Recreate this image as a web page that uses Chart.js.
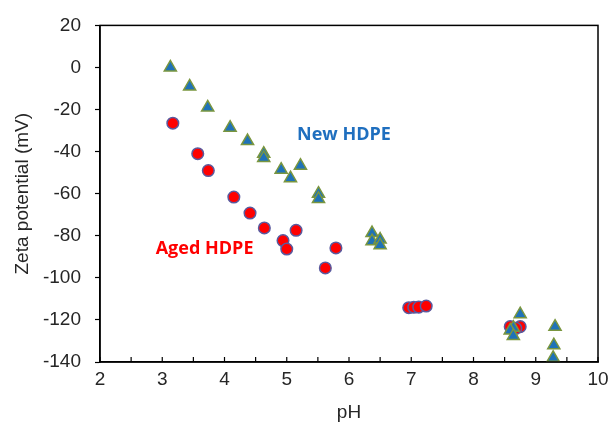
<!DOCTYPE html>
<html>
<head>
<meta charset="utf-8">
<script src="https://cdn.jsdelivr.net/npm/chart.js@4"></script>
<style>
  html, body { margin: 0; padding: 0; background: #fff; }
  #wrap { width: 615px; height: 425px; }
</style>
</head>
<body>
<div id="wrap"><canvas id="zeta" width="615" height="425"></canvas></div>
<script>
  // pH / zeta potential values
  const newPH   = [3.13, 3.44, 3.73, 4.09, 4.37, 4.63, 4.63, 4.91, 5.06, 5.22, 5.51, 5.51, 6.37, 6.37, 6.50, 6.50, 8.75, 8.64, 8.59, 8.64, 9.31, 9.29, 9.28];
  const newZeta = [0, -9, -19, -28.6, -35, -41, -43, -48.6, -52.6, -46.7, -60, -62.5, -78.7, -82.6, -81.8, -84.5, -117.3, -123.7, -125, -127.6, -123.2, -132, -138];

  const agedPH   = [3.17, 3.57, 3.74, 4.15, 4.41, 4.64, 4.94, 5.00, 5.15, 5.62, 5.79, 6.96, 7.04, 7.12, 7.24, 8.59, 8.75, 8.68];
  const agedZeta = [-26.5, -41, -49, -61.6, -69.2, -76.3, -82.3, -86.3, -77.4, -95.3, -85.8, -114.2, -114, -113.9, -113.4, -123.2, -123.2, -124];

  const xTicks = [2, 3, 4, 5, 6, 7, 8, 9, 10];
  const yTicks = [20, 0, -20, -40, -60, -80, -100, -120, -140];

  const labels = [
    { text: "New HDPE",  x: 5.92, y: -32, color: "#1f6fbf" },
    { text: "Aged HDPE", x: 3.68, y: -86.4, color: "#ff0000" }
  ];

  const axisFont = { family: "'Liberation Sans', Arial", size: 19 };

  const toPoints = (xs, ys) => xs.map((x, i) => ({ x, y: ys[i] }));

  // box, inward x ticks (major + half steps) and the text labels
  const framePlugin = {
    id: "frame",
    afterDraw(chart) {
      const { ctx, chartArea: a, scales } = chart;
      ctx.save();
      ctx.strokeStyle = "#000";
      ctx.lineWidth = 1.5;
      ctx.strokeRect(a.left, a.top, a.right - a.left, a.bottom - a.top);
      ctx.lineWidth = 1.2;
      for (let v = xTicks[0]; v <= xTicks[xTicks.length - 1]; v += 0.5) {
        const px = scales.x.getPixelForValue(v);
        ctx.beginPath();
        ctx.moveTo(px, a.bottom);
        ctx.lineTo(px, a.bottom - 5);
        ctx.stroke();
      }
      ctx.font = "bold 18px 'Open Sans', sans-serif";
      ctx.textAlign = "center";
      ctx.textBaseline = "middle";
      labels.forEach(l => {
        ctx.fillStyle = l.color;
        ctx.fillText(l.text, scales.x.getPixelForValue(l.x), scales.y.getPixelForValue(l.y));
      });
      ctx.restore();
    }
  };

  new Chart(document.getElementById("zeta"), {
    type: "scatter",
    data: {
      datasets: [
        {
          label: "New HDPE",
          data: toPoints(newPH, newZeta),
          pointStyle: "triangle",
          pointRadius: 7,
          backgroundColor: "#1f72b8",
          borderColor: "#7a963f",
          borderWidth: 1.5
        },
        {
          label: "Aged HDPE",
          data: toPoints(agedPH, agedZeta),
          pointStyle: "circle",
          pointRadius: 5.8,
          backgroundColor: "#ff0000",
          borderColor: "#5a5a9e",
          borderWidth: 1.5
        }
      ]
    },
    options: {
      responsive: false,
      animation: false,
      layout: { padding: { top: 23, right: 17, left: 4, bottom: 0 } },
      plugins: { legend: { display: false }, tooltip: { enabled: false } },
      scales: {
        x: {
          type: "linear",
          min: 2, max: 10,
          afterFit: s => { s.height = 63; },
          grid: { display: true, drawOnChartArea: false, drawTicks: false, color: "#000" },
          border: { color: "#000", width: 1.5 },
          afterBuildTicks: s => { s.ticks = xTicks.map(v => ({ value: v })); },
          ticks: { padding: 6, color: "#262626", font: axisFont },
          title: { display: true, text: "pH", color: "#262626", padding: { top: 0, bottom: 1 }, font: axisFont }
        },
        y: {
          type: "linear",
          min: -140, max: 20,
          afterBuildTicks: s => { s.ticks = yTicks.map(v => ({ value: v })); },
          afterFit: s => { s.width = 96; },
          grid: { drawOnChartArea: false, drawTicks: true, tickLength: 5, tickWidth: 1.2, color: "#000" },
          border: { color: "#000", width: 1.5 },
          ticks: { padding: 14, color: "#262626", font: axisFont },
          title: { display: true, text: "Zeta potential (mV)", color: "#262626", padding: { top: 7, bottom: 0 }, font: axisFont }
        }
      }
    },
    plugins: [framePlugin]
  });
</script>
</body>
</html>
